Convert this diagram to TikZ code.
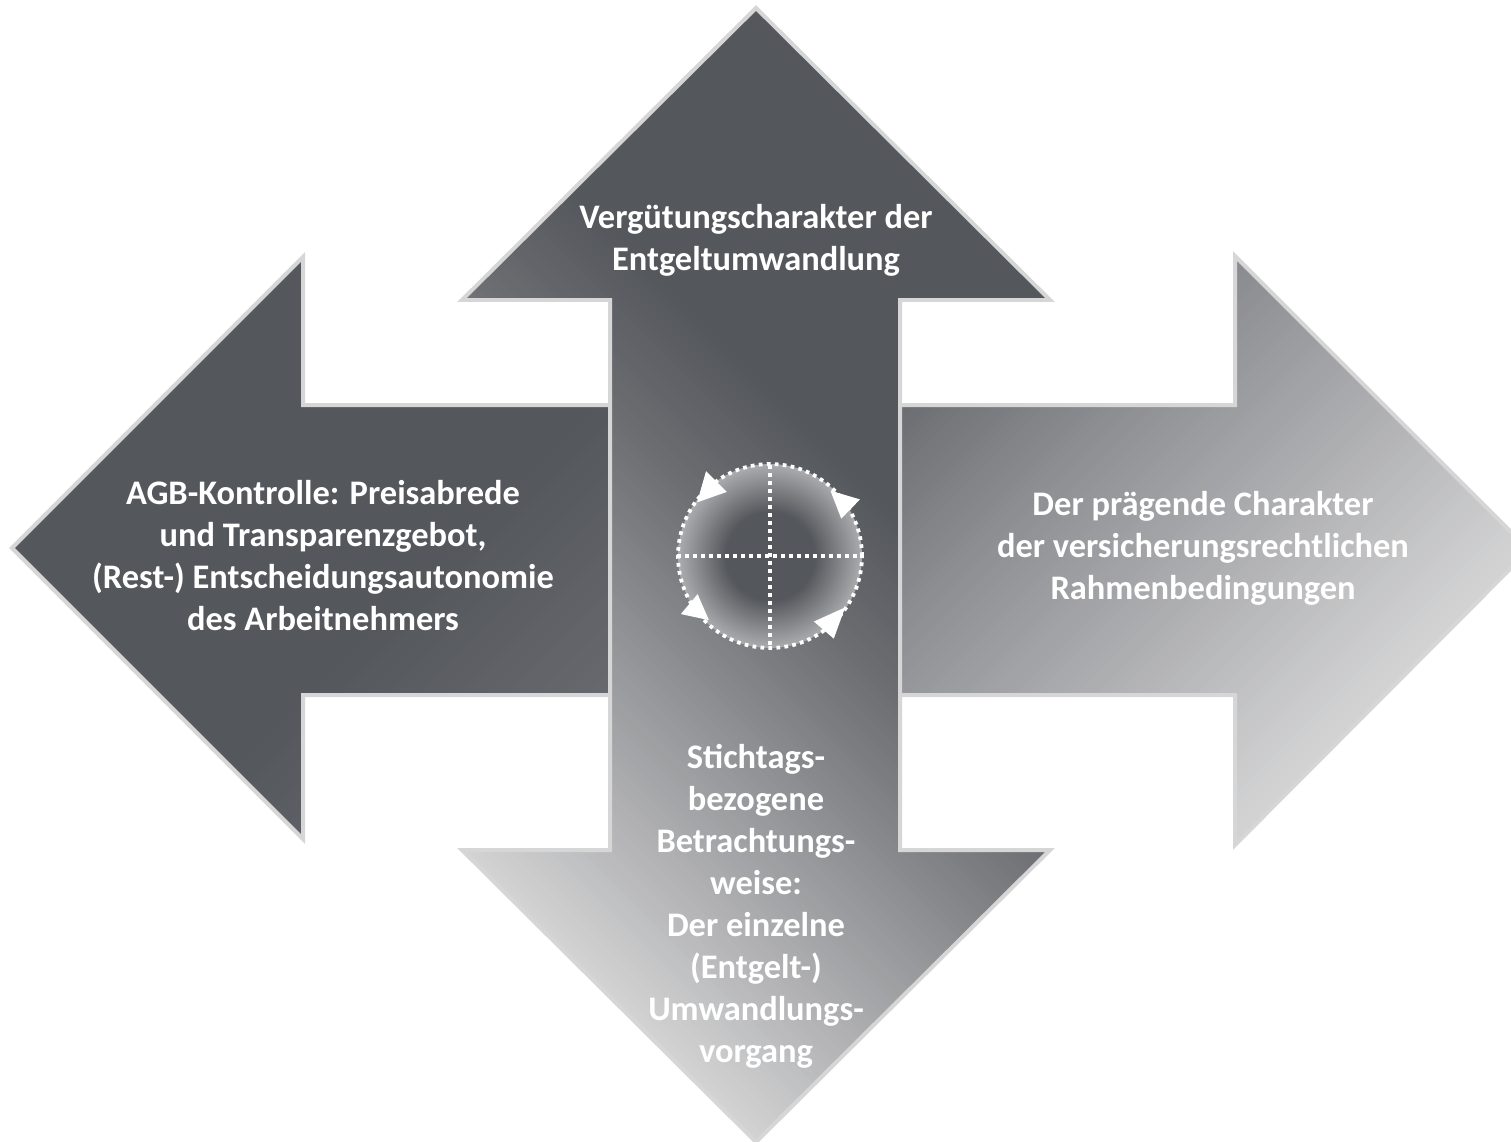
\documentclass[tikz,border=0pt]{standalone}
\usepackage{fontspec}
\setmainfont{Carlito}
\definecolor{vA}{HTML}{D3D3D4}
\definecolor{vB}{HTML}{6B6D71}
\definecolor{vC}{HTML}{54575C}
\definecolor{rA}{HTML}{6B6D71}
\definecolor{rB}{HTML}{8A8B8F}
\definecolor{rC}{HTML}{D2D2D3}
\definecolor{lA}{HTML}{54575C}
\definecolor{lB}{HTML}{6A6C70}
\definecolor{rim}{HTML}{D6D6D6}
\definecolor{hubDark}{HTML}{54575C}
\definecolor{hubLight}{HTML}{ABACAE}
\pgfdeclareradialshading{hubshade}{\pgfpoint{0bp}{0bp}}{color(0bp)=(hubDark); color(12bp)=(hubDark); color(25bp)=(hubLight); color(50bp)=(hubLight)}
\begin{document}
\begin{tikzpicture}[x=0.02cm,y=-0.02cm,
  rimline/.style={draw=rim, line width=0.08cm, line join=miter},
  armtext/.style={text=white, font=\fontsize{19.6pt}{23.9pt}\selectfont\bfseries, align=center, inner sep=0pt},
  dotline/.style={white, line width=0.075cm, dash pattern=on 0.075cm off 0.085cm},
  tip/.style={fill=white}]
\useasboundingbox (0,0) rectangle (1511,1142);
\fill[white] (0,0) rectangle (1511,1142);

% left arrow
\begin{scope}
\clip (12,548) -- (303,257) -- (303,405) -- (756,405) -- (756,695) -- (303,695) -- (303,839) -- cycle;
\foreach \t in {550,560,...,1460}{
  \pgfmathtruncatemacro\q{100-max(0,min(100,(\t-1000)/350*100))}
  \fill[lA!\q!lB] (-50,\t+50) -- (1600,\t-1600) -- (1600,\t+11-1600) -- (-50,\t+61) -- cycle;
}
\end{scope}
\draw[rimline] (12,548) -- (303,257) -- (303,405) -- (756,405) -- (756,695) -- (303,695) -- (303,839) -- cycle;

% right arrow
\begin{scope}
\clip (1529,550) -- (1235,256) -- (1235,405) -- (756,405) -- (756,695) -- (1235,695) -- (1235,845) -- cycle;
\foreach \t in {1150,1160,...,2090}{
  \pgfmathtruncatemacro\qa{100-max(0,min(100,(\t-1300)/200*100))}
  \pgfmathtruncatemacro\qb{100-max(0,min(100,(\t-1500)/560*100))}
  \fill[rA!\qa!rB!\qb!rC] (-50,\t+50) -- (1600,\t-1600) -- (1600,\t+11-1600) -- (-50,\t+61) -- cycle;
}
\end{scope}
\draw[rimline] (1529,550) -- (1235,256) -- (1235,405) -- (756,405) -- (756,695) -- (1235,695) -- (1235,845) -- cycle;

% vertical double arrow
\begin{scope}
\clip (756,8) -- (1050,300) -- (900,300) -- (900,850) -- (1050,850) -- (756,1142) -- (462,850) -- (610,850) -- (610,300) -- (462,300) -- cycle;
\foreach \s in {-400,-390,...,760}{
  \pgfmathtruncatemacro\qa{100-max(0,min(100,(\s+390)/590*100))}
  \pgfmathtruncatemacro\qb{100-max(0,min(100,(\s-200)/180*100))}
  \fill[vA!\qa!vB!\qb!vC] (400,400-\s) -- (1100,1100-\s) -- (1100,1100-\s-11) -- (400,400-\s-11) -- cycle;
}
\end{scope}
\draw[rimline] (756,8) -- (1050,300) -- (900,300) -- (900,850) -- (1050,850) -- (756,1142) -- (462,850) -- (610,850) -- (610,300) -- (462,300) -- cycle;

% hub
\shade[shading=hubshade] (770,556) circle (1.84cm);
\draw[dotline] (770,556) circle (1.84cm);
\draw[dotline] (677,556) -- (862,556);
\draw[dotline] (770,465) -- (770,648);
\fill[tip, scale around={1.2:(710,488.4)}] (706.7,474) -- (724,491.3) -- (699.3,500) -- cycle;
\fill[tip, scale around={1.2:(844,502.9)}] (832.7,492.7) -- (857.3,500) -- (841.7,516) -- cycle;
\fill[tip, scale around={1.2:(695.8,609.4)}] (697.3,596.7) -- (683.3,613.3) -- (706.7,618.3) -- cycle;
\fill[tip, scale around={1.2:(830.9,622.6)}] (842.7,610) -- (816.7,621.7) -- (833.3,636) -- cycle;

% texts
\node[armtext] (ttop) at (756,240) {Vergütungscharakter der\\Entgeltumwandlung};
\node[armtext] (tleft) at (323,556) {AGB-Kontrolle: Preisabrede\\und Transparenzgebot,\\(Rest-) Entscheidungsautonomie\\des Arbeitnehmers};
\node[armtext] (tright) at (1203,548) {Der prägende Charakter\\der versicherungsrechtlichen\\Rahmenbedingungen};
\node[armtext] (tbottom) at (756,906) {Stichtags-\\bezogene\\Betrachtungs-\\weise:\\Der einzelne\\(Entgelt-)\\Umwandlungs-\\vorgang};
\end{tikzpicture}
\end{document}
